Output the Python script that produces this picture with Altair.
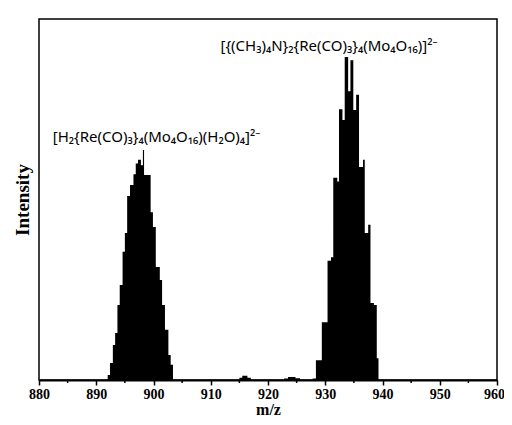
import altair as alt
import pandas as pd

# spectrum: left edge of each step (m/z) and the intensity held until the next edge
mz = [880.0,
      892.0, 892.4, 892.9, 893.3, 893.7, 894.1, 894.6, 895.0, 895.4, 895.9,
      896.5, 896.9, 897.3, 897.8, 898.15, 898.35, 899.5, 899.9, 900.4, 901.1,
      901.5, 902.0, 902.6, 903.0, 903.4,
      915.0, 915.5, 916.4, 917.0,
      922.8, 923.5, 924.8, 925.6,
      927.8, 928.37, 929.4, 930.4, 931.0, 931.4, 932.1, 932.4, 933.0, 933.4,
      934.0, 934.4, 934.9, 935.4, 935.9, 936.6, 936.9, 937.5, 937.9, 938.5,
      939.0, 939.3, 960.0]
intensity = [0.0,
             1.4, 4.7, 9.7, 13.0, 20.8, 26.3, 35.5, 40.7, 51.0, 54.0,
             57.0, 60.0, 61.0, 59.5, 63.7, 56.8, 46.5, 42.4, 31.3, 27.7,
             20.8, 13.9, 6.9, 4.2, 0.0,
             0.6, 1.2, 0.6, 0.0,
             0.4, 0.8, 0.5, 0.0,
             0.4, 5.5, 16.0, 33.0, 34.0, 56.0, 55.0, 75.0, 72.0, 89.5,
             80.0, 88.6, 74.8, 79.0, 59.0, 61.0, 40.7, 43.0, 21.3, 20.8,
             6.0, 0.0, 0.0]

major_ticks = [880, 890, 900, 910, 920, 930, 940, 950, 960]
minor_ticks = [885, 895, 905, 915, 925, 935, 945, 955]

ann_text = ["[H\u2082{Re(CO)\u2083}\u2084(Mo\u2084O\u2081\u2086)(H\u2082O)\u2084]\u00b2\u207b",
            "[{(CH\u2083)\u2084N}\u2082{Re(CO)\u2083}\u2084(Mo\u2084O\u2081\u2086)]\u00b2\u207b"]
ann_mz = [882.4, 911.7]
ann_int = [66.0, 91.0]

df = pd.DataFrame({"mz": mz, "intensity": intensity})
df_minor = pd.DataFrame({"mz": minor_ticks})
df_ann = pd.DataFrame({"mz": ann_mz, "intensity": ann_int, "label": ann_text})

serif = "Liberation Serif"
xaxis = alt.Axis(title="m/z", values=major_ticks, grid=False,
                 labelFont=serif, labelFontWeight="bold", labelFontSize=14,
                 labelColor="black", labelPadding=2, labelFlush=False,
                 labelOffset=alt.condition("datum.value == 960", alt.value(-3), alt.value(0)),
                 tickColor="black", tickSize=5, tickWidth=1.5,
                 domainColor="black", domainWidth=2,
                 titleFont=serif, titleFontWeight="bold", titleFontSize=16,
                 titleColor="black", titlePadding=0)
yaxis = alt.Axis(title="Intensity", labels=False, ticks=False, domain=False,
                 grid=False, titleFont=serif, titleFontWeight="bold",
                 titleFontSize=19, titleColor="black", titlePadding=7)
xscale = alt.Scale(domain=[880, 960], nice=False, zero=False)
yscale = alt.Scale(domain=[0, 100], nice=False)

spectrum = alt.Chart(df).mark_area(interpolate="step-after", color="black").encode(
    x=alt.X("mz:Q", scale=xscale, axis=xaxis),
    y=alt.Y("intensity:Q", scale=yscale, axis=yaxis),
)

minor = alt.Chart(df_minor).mark_rule(color="black", strokeWidth=1.5).encode(
    x=alt.X("mz:Q", scale=xscale, axis=xaxis),
    y=alt.value(361),
    y2=alt.value(364),
)

labels = alt.Chart(df_ann).mark_text(
    align="left", baseline="alphabetic", font="Noto Sans", fontSize=15, color="black"
).encode(
    x=alt.X("mz:Q", scale=xscale, axis=xaxis),
    y=alt.Y("intensity:Q", scale=yscale, axis=yaxis),
    text="label:N",
)

chart = alt.layer(spectrum, minor, labels).properties(
    width=458, height=361,
    autosize=alt.AutoSizeParams(type="none"),
    padding={"left": 31, "top": 11, "right": 7, "bottom": 37},
    background="white",
).configure_view(stroke="black", strokeWidth=1.5)

chart.save("out.html", embed_options={"renderer": "svg", "actions": False})
